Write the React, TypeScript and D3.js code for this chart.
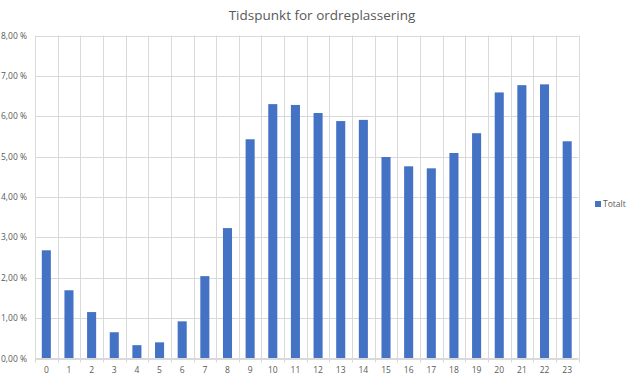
import React from "react";
import * as d3 from "d3";

const categories: string[] = Array.from({ length: 24 }, (_, i) => String(i));
const values: number[] = [
  2.68, 1.69, 1.15, 0.65, 0.33, 0.4, 0.92, 2.04, 3.23, 5.43, 6.3, 6.28,
  6.08, 5.88, 5.91, 4.99, 4.76, 4.71, 5.09, 5.58, 6.59, 6.77, 6.79, 5.38,
];
const yTicks: number[] = [0, 1, 2, 3, 4, 5, 6, 7, 8];
const seriesName = "Totalt";
const title = "Tidspunkt for ordreplassering";

const W = 631;
const H = 380;
const left = 35;
const right = 578.5;
const top = 35.5;
const bottom = 358.5;
const FONT = "'Open Sans', 'Liberation Sans', sans-serif";
const TEXT = "#595959";
const GRID = "#d9d9d9";
const BAR = "#4472C4";

export default function App() {
  const x = d3.scaleBand<string>().domain(categories).range([left, right]).paddingInner(0.6).paddingOuter(0.3);
  const xb = d3.scaleBand<string>().domain(categories).range([left, right]);
  const y = d3.scaleLinear().domain([0, 8]).range([bottom, top]);
  const fmt = (v: number) => d3.format(".2f")(v).replace(".", ",") + " %";

  return (
    <svg width={W} height={H} style={{ position: "absolute", left: 0, top: 0, background: "#fff" }}>
      <rect width={W} height={H} fill="#fff" />
      <text x={322} y={20} textAnchor="middle" fontFamily={FONT} fontSize={13.5} fill={TEXT}>
        {title}
      </text>
      {yTicks.map((t) => (
        <g key={t}>
          <line x1={left} x2={right} y1={Math.round(y(t)) + 0.5} y2={Math.round(y(t)) + 0.5} stroke={GRID} strokeWidth={1} />
          <text x={27} y={y(t) + 3} textAnchor="end" fontFamily={FONT} fontSize={8.5} fill={TEXT}>
            {fmt(t)}
          </text>
        </g>
      ))}
      {[...categories.map((c) => xb(c) as number), right].map((xv, i) => (
        <line key={i} x1={Math.round(xv) + 0.5} x2={Math.round(xv) + 0.5} y1={top} y2={bottom + 4} stroke={GRID} strokeWidth={1} />
      ))}
      {values.map((v, i) => (
        <rect key={i} x={x(categories[i])} y={y(v)} width={x.bandwidth()} height={y(0) - y(v)} fill={BAR} />
      ))}
      <line x1={left} x2={right} y1={bottom} y2={bottom} stroke={GRID} strokeWidth={1} />
      {categories.map((c) => (
        <text key={c} x={(xb(c) as number) + xb.bandwidth() / 2} y={373} textAnchor="middle" fontFamily={FONT} fontSize={8.5} fill={TEXT}>
          {c}
        </text>
      ))}
      <rect x={595} y={201} width={6} height={6} fill={BAR} />
      <text x={603} y={207} fontFamily={FONT} fontSize={8.5} fill={TEXT}>
        {seriesName}
      </text>
    </svg>
  );
}
